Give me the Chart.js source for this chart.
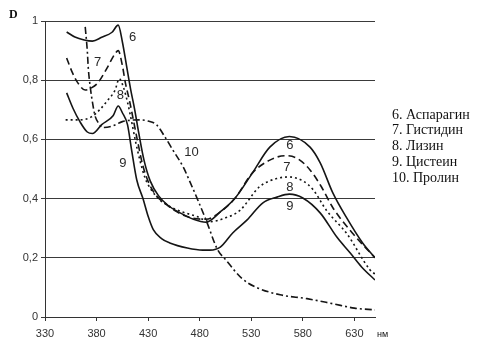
<!DOCTYPE html>
<html>
<head>
<meta charset="utf-8">
<script src="https://cdn.jsdelivr.net/npm/chart.js@4.4.0/dist/chart.umd.min.js"></script>
<style>
  html, body { margin: 0; padding: 0; background: #fff; }
  #wrap { width: 499px; height: 349px; }
</style>
</head>
<body>
<div id="wrap"><canvas id="spectra" width="499" height="349"></canvas></div>
<script>
// 📌 Спектры поглощения (D от длины волны, нм)
const nmTicks = [330, 380, 430, 480, 530, 580, 630];
const dTicks = [0, 0.2, 0.4, 0.6, 0.8, 1];
const dTickLabels = ['0', '0,2', '0,4', '0,6', '0,8', '1'];

// 6. Аспарагин
const asnNm = [351, 359, 368, 376, 385, 395, 401, 405, 409, 413, 417, 421, 426, 432, 440, 450, 462, 474, 486, 500, 514, 531, 548, 567, 587, 597, 609, 622, 638, 650];
const asnD  = [0.963, 0.946, 0.936, 0.932, 0.945, 0.962, 0.986, 0.93, 0.85, 0.77, 0.70, 0.62, 0.53, 0.46, 0.41, 0.375, 0.35, 0.33, 0.32, 0.355, 0.40, 0.486, 0.574, 0.61, 0.574, 0.52, 0.42, 0.338, 0.25, 0.20];

// 7. Гистидин
const hisNm = [351, 356, 362, 369, 375, 381, 390, 398, 401, 405, 408, 412, 416, 420, 425, 431, 438, 446, 458, 472, 486, 500, 514, 531, 548, 563, 575, 587, 598, 609, 628, 650];
const hisD  = [0.875, 0.83, 0.79, 0.767, 0.774, 0.79, 0.84, 0.89, 0.90, 0.85, 0.79, 0.73, 0.66, 0.59, 0.51, 0.45, 0.41, 0.385, 0.355, 0.335, 0.33, 0.355, 0.40, 0.486, 0.53, 0.545, 0.535, 0.497, 0.44, 0.37, 0.284, 0.20];

// 8. Лизин
const lysNm = [350, 364, 375, 383, 391, 398, 402, 406, 410, 414, 418, 422, 427, 433, 440, 450, 463, 477, 490, 505, 519, 538, 555, 567, 580, 590, 603, 623, 645, 650];
const lysD  = [0.666, 0.666, 0.676, 0.70, 0.733, 0.767, 0.805, 0.777, 0.726, 0.66, 0.59, 0.53, 0.47, 0.43, 0.40, 0.375, 0.355, 0.34, 0.322, 0.335, 0.36, 0.44, 0.468, 0.473, 0.46, 0.43, 0.36, 0.28, 0.16, 0.145];

// 9. Цистеин
const cysNm = [351, 357, 364, 371, 376, 385, 396, 401, 405, 410, 414, 419, 425, 430, 435, 443, 451, 468, 483, 490, 500, 512, 526, 541, 555, 567, 580, 597, 613, 626, 637, 650];
const cysD  = [0.757, 0.706, 0.659, 0.625, 0.62, 0.65, 0.68, 0.713, 0.69, 0.65, 0.564, 0.463, 0.40, 0.34, 0.295, 0.265, 0.25, 0.233, 0.226, 0.226, 0.236, 0.284, 0.328, 0.385, 0.405, 0.415, 0.402, 0.351, 0.27, 0.216, 0.169, 0.125];

// 10. Пролин
const proNm = [369, 371, 372, 374, 376, 378.5, 382, 386, 395, 405, 414, 422, 430, 438, 446, 454, 464, 471, 477, 487, 497, 506, 521, 535, 558, 584, 609, 630, 650];
const proD  = [0.98, 0.90, 0.84, 0.774, 0.726, 0.68, 0.655, 0.64, 0.645, 0.66, 0.665, 0.666, 0.662, 0.65, 0.61, 0.564, 0.507, 0.453, 0.405, 0.32, 0.23, 0.19, 0.13, 0.10, 0.075, 0.062, 0.045, 0.03, 0.024];

const legendItems = ['6. Аспарагин', '7. Гистидин', '8. Лизин', '9. Цистеин', '10. Пролин'];

// номера кривых прямо на графике: [текст, нм, D]
const curveTags = [
  ['6', 415, 0.946], ['7', 381, 0.861], ['8', 403, 0.75], ['9', 405.6, 0.52], ['10', 472, 0.557],
  ['6', 567.4, 0.581], ['7', 564.5, 0.507], ['8', 567.4, 0.439], ['9', 567.4, 0.372]
];

const toPoints = (xs, ys) => xs.map((x, i) => ({ x: x, y: ys[i] }));

function lineSet(label, xs, ys, dash) {
  return {
    label: label,
    data: toPoints(xs, ys),
    borderColor: '#151515',
    borderWidth: 1.6,
    borderDash: dash,
    pointRadius: 0,
    fill: false,
    cubicInterpolationMode: 'monotone'
  };
}

// 📌 подписи: номера кривых, легенда справа, D и нм
const textPlugin = {
  id: 'textPlugin',
  afterDraw(chart) {
    const ctx = chart.ctx;
    const xs = chart.scales.x, ys = chart.scales.y;
    ctx.save();
    ctx.fillStyle = '#2a2a2a';
    ctx.font = '13px "Liberation Sans", Arial, sans-serif';
    ctx.textAlign = 'center';
    ctx.textBaseline = 'middle';
    curveTags.forEach(([t, x, y]) => {
      ctx.fillText(t, xs.getPixelForValue(x), ys.getPixelForValue(y));
    });

    ctx.fillStyle = '#111';
    ctx.textAlign = 'left';
    ctx.font = '14px "Liberation Serif", "Times New Roman", serif';
    legendItems.forEach((t, i) => {
      ctx.fillText(t, 392, 115 + i * 15.8);
    });

    ctx.font = 'bold 12px "Liberation Serif", serif';
    ctx.fillText('D', 9, 15);
    ctx.font = '9px "Liberation Sans", Arial, sans-serif';
    ctx.fillText('нм', 377, 335);
    ctx.restore();
  }
};

const ctx = document.getElementById('spectra').getContext('2d');
new Chart(ctx, {
  type: 'line',
  data: {
    datasets: [
      lineSet(legendItems[0], asnNm, asnD, []),
      lineSet(legendItems[1], hisNm, hisD, [7, 4]),
      lineSet(legendItems[2], lysNm, lysD, [2, 3]),
      lineSet(legendItems[3], cysNm, cysD, []),
      lineSet(legendItems[4], proNm, proD, [7, 3, 2, 3])
    ]
  },
  options: {
    responsive: false,
    animation: false,
    layout: { padding: { left: 0, top: 21, right: 124, bottom: 0 } },
    plugins: { legend: { display: false }, tooltip: { enabled: false } },
    scales: {
      x: {
        type: 'linear',
        min: 330,
        max: 650,
        afterBuildTicks: s => { s.ticks = nmTicks.map(v => ({ value: v })); },
        afterFit: s => { s.height = 32; },
        grid: { display: true, drawOnChartArea: false, tickLength: 4, color: '#333' },
        border: { color: '#333', width: 1 },
        ticks: {
          color: '#333',
          font: { family: '"Liberation Sans", Arial, sans-serif', size: 11 },
          padding: 6,
          maxRotation: 0
        }
      },
      y: {
        min: 0,
        max: 1,
        afterBuildTicks: s => { s.ticks = dTicks.map(v => ({ value: v })); },
        afterFit: s => { s.width = 45; },
        grid: { color: '#3a3a3a', lineWidth: 1, tickLength: 4 },
        border: { color: '#333', width: 1 },
        ticks: {
          color: '#333',
          font: { family: '"Liberation Sans", Arial, sans-serif', size: 11 },
          padding: 3,
          callback: (v, i) => dTickLabels[i]
        }
      }
    }
  },
  plugins: [textPlugin]
});
</script>
</body>
</html>
